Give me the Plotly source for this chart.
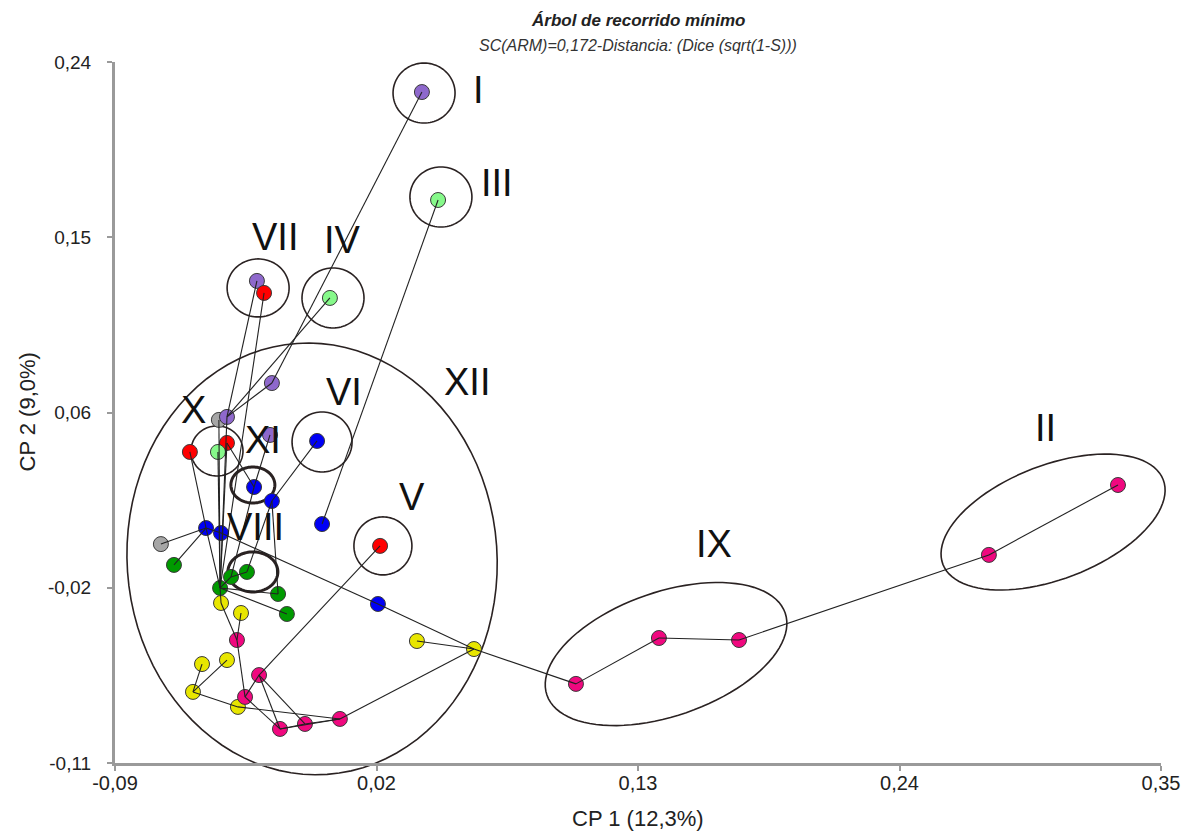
import math
import plotly.graph_objects as go

# Coordenadas de los individuos en los dos primeros componentes principales
cp1 = [0.0391, 0.0459, -0.0303, -0.0273, 0.0004, -0.0240, -0.0429, -0.0463,
       -0.0248, -0.0050, -0.0585, -0.0467, -0.0429, -0.0315, -0.0240, -0.0029,
       -0.0517, -0.0454, 0.0215, -0.0707, -0.0652, -0.0345, -0.0412, -0.0458,
       -0.0214, -0.0177, 0.0206, -0.0454, -0.0370, -0.0387, 0.0370, 0.0610,
       -0.0429, -0.0534, -0.0294, -0.0572, -0.0353, -0.0383, 0.0046, -0.0101,
       -0.0206, 0.1039, 0.1388, 0.1725, 0.2776, 0.3319]
cp2 = [0.2250, 0.1711, 0.1307, 0.1247, 0.1222, 0.0797, 0.0628, 0.0613,
       0.0538, 0.0508, 0.0453, 0.0453, 0.0498, 0.0278, 0.0208, 0.0093,
       0.0073, 0.0048, -0.0016, -0.0007, -0.0111, -0.0146, -0.0171, -0.0226,
       -0.0256, -0.0356, -0.0306, -0.0301, -0.0351, -0.0486, -0.0491, -0.0531,
       -0.0586, -0.0606, -0.0661, -0.0745, -0.0770, -0.0820, -0.0880, -0.0905,
       -0.0930, -0.0705, -0.0476, -0.0486, -0.0061, 0.0288]
grupo = ["morado", "verde claro", "morado", "rojo", "verde claro", "morado", "morado", "gris",
         "morado", "azul", "rojo", "verde claro", "rojo", "azul", "azul", "azul",
         "azul", "azul", "rojo", "gris", "verde", "verde", "verde", "verde",
         "verde", "verde", "azul", "amarillo", "amarillo", "magenta", "amarillo", "amarillo",
         "amarillo", "amarillo", "magenta", "amarillo", "magenta", "amarillo", "magenta", "magenta",
         "magenta", "magenta", "magenta", "magenta", "magenta", "magenta"]

# Aristas del árbol de recorrido mínimo (índices de individuos)
aristas = [(0, 5), (5, 6), (4, 6), (2, 6), (3, 23), (1, 15), (9, 14), (8, 13),
           (13, 22), (14, 21), (14, 24), (21, 22), (22, 23), (6, 23), (7, 23),
           (11, 23), (12, 23), (10, 16), (19, 16), (20, 16), (16, 17), (16, 23),
           (17, 26), (26, 31), (30, 31), (31, 38), (31, 41), (41, 42), (42, 43),
           (43, 44), (44, 45), (23, 24), (23, 25), (23, 27), (27, 29), (28, 29),
           (29, 36), (32, 35), (33, 35), (35, 37), (37, 38), (34, 18), (34, 36),
           (34, 40), (34, 39), (36, 40), (40, 39), (39, 38), (40, 38), (12, 13)]

# Etiquetas de los grupos
grupos_nombre = ["I", "III", "VII", "IV", "XII", "VI", "X", "XI", "VIII", "V", "IX", "II"]
grupos_x = [0.0627, 0.0707, -0.0227, 0.0059, 0.0581, 0.0063, -0.0568, -0.0277, -0.0307, 0.0349, 0.1620, 0.3016]
grupos_y = [0.2260, 0.1796, 0.1526, 0.1511, 0.0802, 0.0752, 0.0663, 0.0513, 0.0078, 0.0228, -0.0007, 0.0573]

colores = {
    "gris": "#a6a6a6",
    "morado": "#8e68cc",
    "rojo": "#ff0000",
    "verde claro": "#86f98a",
    "azul": "#0000f5",
    "verde": "#009a00",
    "amarillo": "#e8e600",
    "magenta": "#f0087f",
}

xmin, xmax = -0.09, 0.35
ymin, ymax = -0.11, 0.24
W, H = 1199, 832
ml, mr, mt, mb = 115, 38, 62, 69
pw = W - ml - mr   # ancho del área de trazado en píxeles
ph = H - mt - mb   # alto del área de trazado en píxeles

fig = go.Figure()

for g in ["gris", "morado", "rojo", "verde claro", "azul", "verde", "amarillo", "magenta"]:
    idx = [i for i, v in enumerate(grupo) if v == g]
    fig.add_trace(go.Scatter(
        x=[cp1[i] for i in idx], y=[cp2[i] for i in idx], mode="markers",
        marker=dict(size=15, color=colores[g], line=dict(width=1, color="#3a3a3a")),
        showlegend=False, hoverinfo="skip"))

ex, ey = [], []
for a, b in aristas:
    ex += [cp1[a], cp1[b], None]
    ey += [cp2[a], cp2[b], None]
fig.add_trace(go.Scatter(x=ex, y=ey, mode="lines",
                         line=dict(color="#222222", width=1.1),
                         showlegend=False, hoverinfo="skip"))


def elipse(cx, cy, a_px, b_px, ang_deg=0.0, n=96):
    """Trayectoria SVG de una elipse en coordenadas 'paper' (semiejes en píxeles),
    para que el contorno pueda salir del área de trazado."""
    px0 = (cx - xmin) / (xmax - xmin)
    py0 = (cy - ymin) / (ymax - ymin)
    t = math.radians(ang_deg)
    pts = []
    for k in range(n):
        f = 2 * math.pi * k / n
        dx = a_px * math.cos(f) * math.cos(t) - b_px * math.sin(f) * math.sin(t)
        dy = a_px * math.cos(f) * math.sin(t) + b_px * math.sin(f) * math.cos(t)
        pts.append((px0 + dx / pw, py0 + dy / ph))
    return "M " + " L ".join(f"{x:.6f},{y:.6f}" for x, y in pts) + " Z"


# (centro x, centro y, semieje a, semieje b, ángulo, grosor)
contornos = [
    (0.0400, 0.2245, 31, 30, 0, 1.6),    # I
    (0.0471, 0.1726, 31, 30, 0, 1.6),    # III
    (-0.0298, 0.1272, 31, 29, 0, 1.6),   # VII
    (0.0017, 0.1222, 31, 30, 0, 1.6),    # IV
    (-0.0029, 0.0503, 30, 30, 0, 1.6),   # VI
    (0.0227, -0.0016, 29, 29, 0, 1.6),   # V
    (-0.0471, 0.0458, 26, 25, 0, 1.6),   # X
    (-0.0320, 0.0288, 22, 18, 0, 3.0),   # XI
    (-0.0320, -0.0146, 25, 20, 0, 3.0),  # VIII
    (-0.0071, -0.0081, 185, 216, 4, 1.6),  # XII
    (0.1418, -0.0556, 126, 62, 19, 1.6),   # IX
    (0.3046, 0.0103, 118, 57, 21, 1.6),    # II
]
for cx, cy, a, b, ang, lw in contornos:
    fig.add_shape(type="path", path=elipse(cx, cy, a, b, ang), xref="paper", yref="paper",
                  line=dict(color="#2a2222", width=lw), fillcolor="rgba(0,0,0,0)",
                  layer="below")

for nom, gx, gy in zip(grupos_nombre, grupos_x, grupos_y):
    fig.add_annotation(x=gx, y=gy, text=nom, showarrow=False,
                       font=dict(family="Liberation Sans, Arial, sans-serif", size=38, color="#111111"))

# Título y subtítulo
fig.add_annotation(xref="paper", yref="paper", x=0.5, y=1, yshift=42, yanchor="middle",
                   text="<b><i>Árbol de recorrido mínimo</i></b>",
                   showarrow=False, font=dict(family="Liberation Sans, Arial", size=17, color="#222222"))
fig.add_annotation(xref="paper", yref="paper", x=0.5, y=1, yshift=17, yanchor="middle",
                   text="<i>SC(ARM)=0,172-Distancia: (Dice (sqrt(1-S)))</i>",
                   showarrow=False, font=dict(family="Liberation Sans, Arial", size=16, color="#333333"))

# Títulos de los ejes
fig.add_annotation(xref="paper", yref="paper", x=0.5, y=0, yshift=-55, yanchor="middle",
                   text="CP 1 (12,3%)", showarrow=False,
                   font=dict(family="Liberation Sans, Arial", size=22, color="#222222"))
fig.add_annotation(xref="paper", yref="paper", x=0, y=0.5, xshift=-88, xanchor="center",
                   yanchor="middle", textangle=-90, text="CP 2 (9,0%)", showarrow=False,
                   font=dict(family="Liberation Sans, Arial", size=22, color="#222222"))

x_ticks = [-0.09, 0.02, 0.13, 0.24, 0.35]
x_labels = ["-0,09", "0,02", "0,13", "0,24", "0,35"]
y_ticks = [-0.11, -0.0225, 0.065, 0.1525, 0.24]
y_labels = ["-0,11", "-0,02", "0,06", "0,15", "0,24"]

fig.update_layout(
    width=W, height=H,
    margin=dict(l=ml, r=mr, t=mt, b=mb),
    plot_bgcolor="white", paper_bgcolor="white",
    xaxis=dict(range=[xmin, xmax], tickvals=x_ticks, ticktext=x_labels,
               showgrid=False, zeroline=False, showline=True, linecolor="#9a9a9a", linewidth=3,
               ticks="outside", ticklen=5, tickcolor="#9a9a9a", tickwidth=1.5, ticklabelstandoff=-5,
               tickfont=dict(family="Liberation Sans, Arial", size=20, color="#222222")),
    yaxis=dict(range=[ymin, ymax], tickvals=y_ticks, ticktext=y_labels,
               showgrid=False, zeroline=False, showline=True, linecolor="#9a9a9a", linewidth=3,
               ticks="outside", ticklen=5, tickcolor="#9a9a9a", tickwidth=1.5, ticklabelstandoff=12,
               tickfont=dict(family="Liberation Sans, Arial", size=19, color="#222222")),
)

fig.write_html("out.html")
